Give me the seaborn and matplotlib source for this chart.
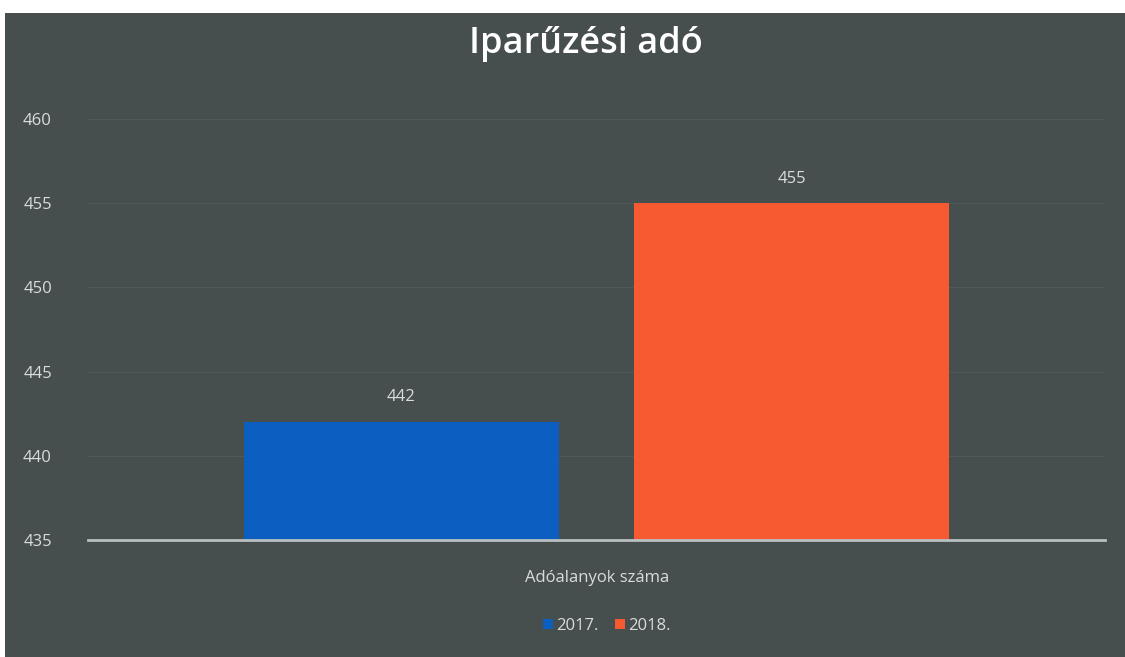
import seaborn as sns
import matplotlib.pyplot as plt
import matplotlib.patches as mpatches
import pandas as pd

# data
category = ['Adóalanyok száma']
years = ['2017.', '2018.']
values = [442, 455]
colors = ['#0c5fc0', '#f75a30']

df = pd.DataFrame({'cat': category * len(years), 'year': years, 'value': values})

plt.rcParams['font.family'] = ['Open Sans', 'DejaVu Sans']

bg = '#474e4e'
txt = '#d9dcdc'

fig = plt.figure(figsize=(11.25, 6.57), dpi=100, facecolor='white')
# dark panel (scan has a white margin top/left)
fig.patches.append(mpatches.Rectangle((5 / 1125, 0), 1, 1 - 13 / 657, transform=fig.transFigure,
                                      facecolor=bg, edgecolor='none', zorder=-10))
ax = fig.add_axes([88 / 1125, 1 - 540 / 657, 1017 / 1125, (540 - 119) / 657])
ax.set_facecolor('none')

sns.barplot(data=df, x='cat', y='value', hue='year', palette=colors, width=0.767, gap=0.19,
            ax=ax, legend=True, saturation=1)

ax.set_ylim(435, 460)
ax.set_xlim(-0.5, 0.5)
ax.set_yticks(range(435, 461, 5))
ax.tick_params(axis='y', colors=txt, labelsize=12, length=0, pad=26)
ax.set_xticks([])
ax.set_xlabel('')
ax.set_ylabel('')
ax.grid(axis='y', color='#505858', linewidth=0.8)
ax.set_axisbelow(True)
for s in ['top', 'right', 'left']:
    ax.spines[s].set_visible(False)
ax.spines['bottom'].set_color('#b9c0c2')
ax.spines['bottom'].set_linewidth(2)

for c in ax.containers:
    ax.bar_label(c, fmt='%d', padding=12, color=txt, fontsize=12)

fig.text(597 / 1125, 1 - 578 / 657, 'Adóalanyok száma', color=txt, fontsize=12,
         ha='center', va='center')
fig.text(586 / 1125, 1 - 44 / 657, 'Iparűzési adó', color='white', fontsize=26,
         fontweight='semibold', ha='center', va='center')

ax.legend(loc='center', bbox_to_anchor=(0.51, (540 - 626) / (540 - 119)), ncol=2, frameon=False,
          fontsize=12, labelcolor=txt, handlelength=0.6, handleheight=0.6, handletextpad=0.2,
          columnspacing=1.0)

fig.savefig('out.png', dpi=100, facecolor='white')
